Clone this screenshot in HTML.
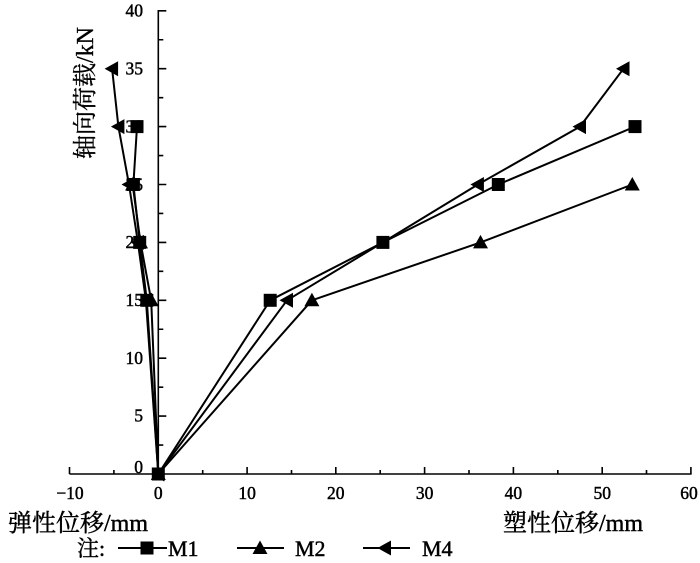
<!DOCTYPE html>
<html><head><meta charset="utf-8"><style>
html,body{margin:0;padding:0;background:#fff;}
body{width:700px;height:563px;overflow:hidden;}
svg{display:block;}
text{font-family:"Liberation Serif","Noto Serif CJK SC",serif;fill:#000;stroke:#000;stroke-width:0.45;}
</style></head><body>
<svg width="700" height="563" viewBox="0 0 700 563" xmlns="http://www.w3.org/2000/svg">
<defs>
<path id="sq" d="M-6.5,-6.5h13v13h-13z"/>
<path id="tu" d="M-7.5,6L7.5,6L0,-7.5z"/>
<path id="tl" d="M-7.5,0L6,-7.5L6,7.5z"/>
</defs>
<g stroke="#000" stroke-width="1.6" fill="none">
<line x1="158.3" y1="10" x2="158.3" y2="474.8"/>
<line x1="69.5" y1="474" x2="691.6" y2="474"/>
<path d="M158.3,10.8h8 M158.3,39.75h5 M158.3,68.7h8 M158.3,97.65h5 M158.3,126.6h8 M158.3,155.55h5 M158.3,184.5h8 M158.3,213.45h5 M158.3,242.4h8 M158.3,271.35h5 M158.3,300.3h8 M158.3,329.25h5 M158.3,358.2h8 M158.3,387.15h5 M158.3,416.1h8 M158.3,445.05h5"/>
<path d="M69.5,474v-7 M113.9,474v-4 M158.3,474v-7 M202.7,474v-4 M247.1,474v-7 M291.5,474v-4 M335.8,474v-7 M380.2,474v-4 M424.6,474v-7 M469,474v-4 M513.4,474v-7 M557.8,474v-4 M602.2,474v-7 M646.5,474v-4 M690.9,474v-7"/>
</g>
<g font-size="17.5" text-anchor="end">
<text x="143" y="16.5">40</text>
<text x="143" y="74.5">35</text>
<text x="143" y="132.5">30</text>
<text x="143" y="190.5">25</text>
<text x="143" y="248">20</text>
<text x="143" y="306">15</text>
<text x="143" y="364">10</text>
<text x="143" y="421.5">5</text>
<text x="143" y="473">0</text>
</g>
<g font-size="17.5" text-anchor="middle">
<text x="70" y="499">−10</text>
<text x="158.3" y="499">0</text>
<text x="247.1" y="499">10</text>
<text x="335.8" y="499">20</text>
<text x="424.6" y="499">30</text>
<text x="513.4" y="499">40</text>
<text x="602.2" y="499">50</text>
<text x="689" y="499">60</text>
</g>
<text x="8" y="531" font-size="24">弹性位移/mm</text>
<text x="503" y="531" font-size="24">塑性位移/mm</text>
<text transform="translate(93,93) rotate(-90)" font-size="24" text-anchor="middle" style="stroke-width:0.35">轴向荷载/kN</text>
<g stroke="#000" stroke-width="2" fill="none" stroke-linejoin="round">
<polyline points="158.3,474 270.2,300.3 382.9,242.4 498.3,184.5 635,126.6"/>
<polyline points="158.3,474 146.8,300.3 139.7,242.4 133.4,184.5 137,126.6"/>
<polyline points="158.3,474 311.9,300.3 480.5,242.4 632.3,184.5"/>
<polyline points="158.3,474 151.2,300.3 140.5,242.4 132.6,184.5"/>
<polyline points="158.3,474 287,300.3 382.9,242.4 477.9,184.5 580,126.6 623.5,68.7"/>
<polyline points="158.3,474 145.9,300.3 137.9,242.4 129,184.5 118.4,126.6 112.1,68.7"/>
</g>
<g fill="#000">
<use href="#sq" x="158.3" y="474"/><use href="#sq" x="270.2" y="300.3"/><use href="#sq" x="382.9" y="242.4"/><use href="#sq" x="498.3" y="184.5"/><use href="#sq" x="635" y="126.6"/>
<use href="#sq" x="146.8" y="300.3"/><use href="#sq" x="139.7" y="242.4"/><use href="#sq" x="133.4" y="184.5"/><use href="#sq" x="137" y="126.6"/>
<use href="#tu" x="158.3" y="474"/><use href="#tu" x="311.9" y="300.3"/><use href="#tu" x="480.5" y="242.4"/><use href="#tu" x="632.3" y="184.5"/>
<use href="#tu" x="151.2" y="300.3"/><use href="#tu" x="140.5" y="242.4"/><use href="#tu" x="132.6" y="184.5"/>
<use href="#tl" x="158.3" y="474"/><use href="#tl" x="287" y="300.3"/><use href="#tl" x="477.9" y="184.5"/><use href="#tl" x="580" y="126.6"/><use href="#tl" x="623.5" y="68.7"/>
<use href="#tl" x="145.9" y="300.3"/><use href="#tl" x="137.9" y="242.4"/><use href="#tl" x="129" y="184.5"/><use href="#tl" x="118.4" y="126.6"/><use href="#tl" x="112.1" y="68.7"/>
</g>
<text x="77" y="556" font-size="22">注:</text>
<g stroke="#000" stroke-width="2">
<line x1="118" y1="548" x2="167" y2="548"/>
<line x1="237" y1="548" x2="284" y2="548"/>
<line x1="363" y1="548" x2="410" y2="548"/>
</g>
<g fill="#000">
<use href="#sq" x="147" y="548"/>
<use href="#tu" x="260" y="548"/>
<use href="#tl" x="385" y="548"/>
</g>
<g font-size="22">
<text x="168" y="556">M1</text>
<text x="295" y="556">M2</text>
<text x="422" y="556">M4</text>
</g>
</svg>
</body></html>
